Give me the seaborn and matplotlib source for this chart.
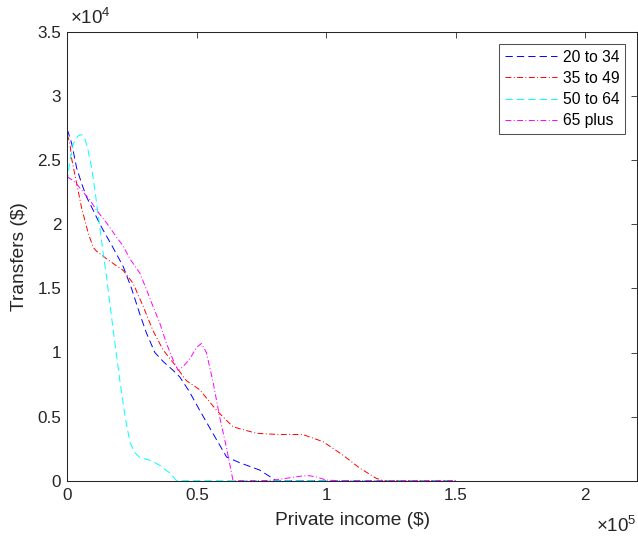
import numpy as np
import pandas as pd
import matplotlib
matplotlib.use("Agg")
import matplotlib.pyplot as plt
from matplotlib.ticker import FuncFormatter
import seaborn as sns

# ---------------- data ----------------
groups = ["20 to 34", "35 to 49", "50 to 64", "65 plus"]

x_20_34 = [0, 1700, 3600, 5500, 7500, 10000, 12600, 17600, 21600, 24800, 28000,
           30600, 33800, 37000, 40900, 43400, 47000, 51100, 56200, 61500, 66600,
           74300, 80700, 90000, 100000, 150000]
y_20_34 = [27400, 26300, 24400, 23200, 22100, 21100, 20000, 18200, 16700, 15000,
           13000, 11500, 10000, 9300, 8600, 8100, 7000, 5500, 3700, 1850, 1400,
           830, 0, 0, 0, 0]

x_35_49 = [0, 1000, 1700, 3600, 5500, 8100, 10000, 11300, 15200, 21600, 25400,
           29300, 33100, 37000, 40900, 46000, 51100, 57600, 64000, 73000, 82000,
           91000, 98700, 106400, 112800, 119200, 122000, 130000, 150000]
y_35_49 = [27000, 26300, 25100, 23200, 21300, 19300, 18200, 17900, 17300, 16400,
           15400, 13600, 11700, 10200, 9200, 7800, 7100, 5500, 4200, 3700, 3600,
           3600, 3050, 2000, 1000, 200, 0, 0, 0]

x_50_64 = [0, 1000, 2300, 4200, 5500, 6800, 8100, 9400, 10700, 12000, 13300,
           15200, 17700, 20300, 22300, 24200, 26000, 28000, 31900, 35700, 39600,
           42200, 50000, 150000]
y_50_64 = [23300, 25000, 26300, 26900, 27000, 26700, 25700, 24400, 22600, 20600,
           18600, 15800, 11800, 7800, 5000, 3000, 2200, 1800, 1600, 1200, 600,
           0, 0, 0]

x_65_plus = [0, 2300, 4200, 6200, 8700, 11300, 15200, 19000, 21600, 24200, 28000,
             30600, 33100, 35700, 38300, 40900, 42800, 44700, 47300, 49900, 51800,
             53700, 56300, 58800, 61400, 64000, 70000, 75000, 80000, 85000, 90000,
             93000, 96000, 100000, 105000, 150000]
y_65_plus = [23700, 23400, 23000, 22500, 21900, 21100, 20100, 19000, 18300, 17300,
             16200, 14900, 13600, 12300, 10700, 9400, 8600, 8900, 9500, 10400,
             10700, 10000, 7700, 5000, 2650, 0, 0, 0, 50, 200, 350, 400, 300, 50,
             0, 0]

series_x = [x_20_34, x_35_49, x_50_64, x_65_plus]
series_y = [y_20_34, y_35_49, y_50_64, y_65_plus]

x_ticks = [0, 0.5, 1, 1.5, 2]
y_ticks = [0, 0.5, 1, 1.5, 2, 2.5, 3, 3.5]

# ---------------- style ----------------
sns.set_style("white")
plt.rcParams["font.family"] = ["Liberation Sans", "DejaVu Sans"]
plt.rcParams["mathtext.fontset"] = "custom"
plt.rcParams["mathtext.rm"] = "Liberation Sans"
plt.rcParams["mathtext.it"] = "Liberation Sans"

dark = "#262626"
colors = ["#0000ff", "#ff0000", "#00ffff", "#ff00ff"]
dash = (0, (7.5, 4.2))
dashdot = (0, (6.0, 2.5, 1.0, 2.5))
styles = [dash, dashdot, dash, dashdot]

fig = plt.figure(figsize=(6.38, 5.36), dpi=100)
ax = fig.add_axes([67.3 / 638, 1 - 480.7 / 536, (637 - 67.3) / 638, (480.7 - 32) / 536])

for g, xs, ys, c, ls in zip(groups, series_x, series_y, colors, styles):
    df = pd.DataFrame({"income": xs, "transfers": ys})
    sns.lineplot(data=df, x="income", y="transfers", ax=ax, color=c,
                 linestyle=ls, linewidth=0.7, label=g, estimator=None,
                 sort=False)

ax.set_xlim(0, 2.2e5)
ax.set_ylim(0, 3.5e4)
ax.set_xticks([v * 1e5 for v in x_ticks])
ax.set_yticks([v * 1e4 for v in y_ticks])
ax.xaxis.set_major_formatter(FuncFormatter(lambda v, p: "%g" % (v / 1e5)))
ax.yaxis.set_major_formatter(FuncFormatter(lambda v, p: "%g" % (v / 1e4)))

ax.tick_params(direction="in", top=True, right=True, length=4.3, width=0.6,
               colors=dark, labelsize=12.3)
ax.tick_params(axis="x", pad=5)
ax.tick_params(axis="y", pad=4.3)
for s in ax.spines.values():
    s.set_visible(True)
    s.set_color(dark)
    s.set_linewidth(0.75)

ax.set_xlabel("Private income ($)", fontsize=13.8, color=dark, labelpad=7)
ax.set_ylabel("Transfers ($)", fontsize=13.8, color=dark, labelpad=7)

ax.text(0.004, 1.008, r"$\times10^{4}$", transform=ax.transAxes, fontsize=13.5,
        color=dark, ha="left", va="bottom")
ax.text(1.0, -0.078, r"$\times10^{5}$", transform=ax.transAxes, fontsize=13.5,
        color=dark, ha="right", va="top")

leg = ax.legend(loc="upper right", bbox_to_anchor=(1, 1), borderaxespad=0.74,
                fontsize=11.25, frameon=True, fancybox=False, edgecolor=dark,
                handlelength=3.37, handletextpad=0.33, labelspacing=0.39,
                borderpad=0.4)
leg.get_frame().set_linewidth(0.75)
for t in leg.get_texts():
    t.set_color("black")

fig.savefig("out.png", dpi=100, facecolor="white")
